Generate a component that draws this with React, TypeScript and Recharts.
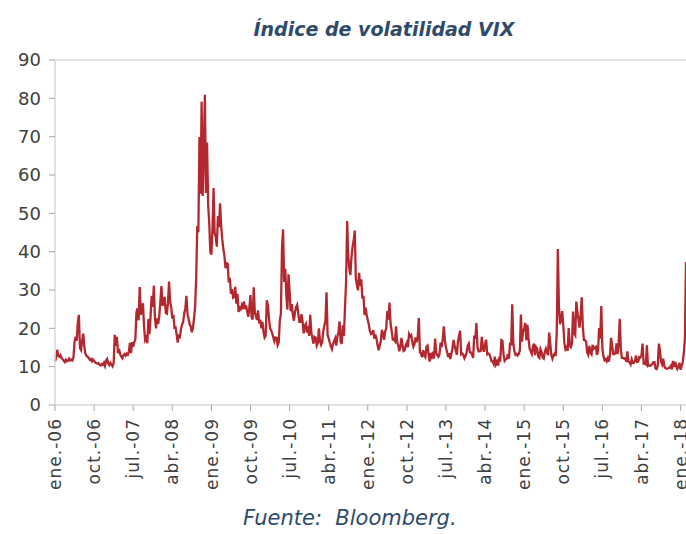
import { LineChart, Line, XAxis, YAxis, ReferenceLine } from "recharts";

// VIX, cuatro lecturas por mes (aprox. semanales), ene-2006 a feb-2018
const vix2006 = [
  11.4, 12.3, 14.4, 12.9, 12.6, 13.0, 12.3, 11.9, 11.6, 11.2, 11.8, 11.4,
  11.6, 12.1, 11.6, 11.8, 11.6, 12.4, 16.5, 17.8, 16.8, 21.5, 23.5, 14.8,
  14.3, 16.8, 18.6, 15.2, 13.4, 12.8, 12.6, 12.3, 11.8, 12.0, 11.4, 11.9,
  11.5, 11.1, 10.9, 10.8, 10.9, 10.5, 10.3, 10.7, 10.5, 11.0, 10.2, 11.6,
];
const vix2007 = [
  12.0, 10.8, 10.4, 11.0, 10.6, 10.1, 10.9, 18.3, 15.4, 17.8, 13.5, 14.6,
  13.2, 12.6, 12.2, 13.0, 13.3, 12.9, 13.4, 13.1, 13.9, 16.2, 13.5, 16.4,
  15.2, 16.4, 17.2, 24.2, 25.2, 22.1, 30.8, 23.5, 25.6, 26.5, 20.4, 17.0,
  17.6, 16.1, 22.4, 18.5, 23.2, 28.5, 25.6, 31.1, 22.9, 20.0, 22.6, 21.2,
];
const vix2008 = [
  23.2, 27.0, 31.0, 25.9, 26.5, 28.2, 24.0, 23.8, 26.5, 32.2, 27.0, 25.5,
  22.6, 23.5, 20.2, 20.3, 18.4, 16.3, 18.0, 17.8, 19.8, 21.0, 21.7, 23.9,
  25.2, 28.5, 23.7, 22.5, 21.0, 20.5, 19.0, 20.1, 22.6, 25.7, 33.1, 46.7,
  45.1, 69.9, 55.1, 79.1, 54.5, 66.3, 80.9, 55.3, 68.5, 52.4, 47.6, 40.0,
];
const vix2009 = [
  39.2, 46.1, 56.6, 44.8, 43.9, 41.3, 49.3, 46.4, 52.6, 46.7, 43.2, 40.8,
  38.9, 35.7, 37.0, 36.8, 32.0, 33.2, 29.0, 30.2, 28.0, 28.2, 30.8, 26.4,
  29.0, 24.3, 25.4, 25.0, 26.0, 25.0, 27.0, 25.1, 26.0, 24.2, 23.0, 25.6,
  28.7, 22.9, 22.3, 30.7, 24.2, 23.1, 22.2, 24.7, 21.3, 22.3, 20.0, 21.7,
];
const vix2010 = [
  19.0, 17.6, 18.1, 27.3, 26.1, 22.7, 20.0, 19.5, 18.7, 17.6, 16.6, 17.6,
  17.5, 15.6, 16.3, 22.0, 23.8, 40.9, 45.8, 32.1, 35.5, 28.6, 24.9, 34.1,
  29.7, 24.5, 26.3, 23.5, 22.0, 24.3, 25.5, 26.1, 23.8, 21.7, 21.7, 23.7,
  21.7, 18.7, 20.7, 21.2, 18.9, 20.6, 18.0, 23.5, 19.0, 17.4, 16.0, 17.8,
];
const vix2011 = [
  17.6, 15.5, 16.2, 20.0, 16.7, 15.7, 16.4, 19.2, 20.7, 21.9, 29.4, 18.3,
  17.4, 16.3, 15.3, 14.6, 15.9, 16.7, 17.4, 15.5, 17.9, 19.0, 21.8, 16.5,
  15.9, 20.8, 18.0, 25.3, 32.0, 48.0, 39.0, 35.6, 33.9, 38.6, 41.3, 42.9,
  45.5, 33.0, 31.3, 29.9, 34.5, 31.1, 32.8, 27.8, 28.5, 23.5, 25.4, 23.4,
];
const vix2012 = [
  22.2, 20.9, 19.2, 18.5, 18.7, 19.5, 17.3, 18.4, 17.3, 15.6, 14.3, 15.5,
  16.7, 19.6, 18.6, 17.0, 19.2, 20.0, 24.5, 22.3, 26.7, 21.2, 19.3, 17.1,
  17.2, 16.7, 20.5, 16.5, 15.6, 14.0, 15.2, 17.5, 15.6, 14.1, 14.3, 15.7,
  16.3, 15.1, 18.5, 17.9, 18.2, 16.4, 15.2, 15.9, 17.6, 16.4, 17.8, 22.7,
];
const vix2013 = [
  13.8, 13.4, 12.5, 14.3, 12.9, 12.5, 15.2, 15.5, 13.0, 11.3, 13.6, 12.7,
  13.9, 12.1, 17.3, 13.6, 13.0, 12.6, 13.2, 16.3, 15.1, 17.1, 20.5, 16.9,
  14.9, 13.9, 12.5, 13.5, 12.0, 13.4, 14.8, 17.0, 15.4, 14.2, 13.1, 16.6,
  18.0, 19.4, 13.2, 13.4, 13.1, 12.2, 12.8, 13.7, 15.5, 16.0, 13.8, 13.7,
];
const vix2014 = [
  13.2, 12.3, 18.1, 17.3, 21.4, 15.1, 14.0, 14.0, 14.1, 17.8, 14.8, 13.9,
  15.9, 17.0, 13.2, 13.4, 13.2, 12.4, 11.4, 11.4, 10.7, 12.6, 10.6, 11.3,
  10.3, 12.1, 11.8, 16.9, 16.7, 13.2, 11.5, 11.9, 12.1, 13.3, 12.1, 16.3,
  15.5, 26.3, 16.1, 14.0, 13.1, 13.3, 12.9, 13.3, 14.2, 23.6, 16.5, 19.2,
];
const vix2015 = [
  19.9, 21.4, 16.9, 20.9, 17.3, 14.7, 14.0, 13.3, 15.2, 16.0, 13.0, 15.1,
  14.7, 12.6, 12.3, 14.6, 13.9, 12.4, 12.1, 13.8, 14.7, 13.8, 13.0, 18.9,
  16.1, 13.0, 12.1, 13.0, 13.4, 12.8, 19.1, 40.7, 25.6, 21.1, 22.3, 24.5,
  20.9, 16.2, 14.6, 15.1, 14.1, 20.1, 15.5, 15.1, 16.0, 24.4, 18.7, 18.2,
];
const vix2016 = [
  27.0, 24.3, 22.3, 20.2, 23.4, 28.1, 20.5, 17.0, 16.9, 16.5, 13.8, 13.1,
  15.4, 13.6, 13.2, 15.7, 14.7, 15.0, 15.2, 13.1, 14.0, 20.1, 17.3, 25.8,
  14.8, 12.7, 11.7, 12.0, 11.4, 12.2, 11.3, 13.1, 17.5, 15.5, 13.3, 13.3,
  13.5, 16.1, 13.3, 16.2, 22.5, 14.4, 12.3, 12.3, 12.1, 12.2, 11.3, 14.0,
];
const vix2017 = [
  11.3, 11.2, 10.6, 11.9, 11.0, 11.0, 11.5, 12.9, 11.2, 11.3, 12.5, 12.4,
  13.0, 16.0, 10.8, 10.8, 10.6, 15.6, 10.2, 10.4, 10.2, 10.4, 10.7, 11.2,
  11.2, 9.5, 9.4, 10.3, 16.0, 14.3, 11.3, 10.6, 12.1, 10.2, 9.6, 9.5,
  9.5, 9.6, 9.8, 10.2, 9.3, 11.5, 9.9, 11.3, 10.2, 9.4, 10.0, 11.0,
];
const vix2018 = [9.2, 10.2, 11.3, 13.5, 17.3, 37.3];

const vixByYear = [
  vix2006, vix2007, vix2008, vix2009, vix2010, vix2011, vix2012,
  vix2013, vix2014, vix2015, vix2016, vix2017, vix2018,
];

const tickLabels = [
  "ene.-06", "oct.-06", "jul.-07", "abr.-08", "ene.-09", "oct.-09",
  "jul.-10", "abr.-11", "ene.-12", "oct.-12", "jul.-13", "abr.-14",
  "ene.-15", "oct.-15", "jul.-16", "abr.-17", "ene.-18",
];
const yTicks = [0, 10, 20, 30, 40, 50, 60, 70, 80, 90];

// t = meses desde ene-2006
const data = vixByYear.flatMap((vals, y) =>
  vals.map((v, i) => ({ t: y * 12 + i / 4, vix: v }))
);
const xEnd = data[data.length - 1].t;
const xTicks = tickLabels.map((_, i) => i * 9);

const axisGray = "#d9d9d9";
const tickGray = "#a6a6a6";
const textGray = "#404040";
const blue = "#2f4b6b";

function XTick({ x, y, payload }: any) {
  const label = tickLabels[Math.round(payload.value / 9)];
  const yy = y + 5;
  return (
    <text
      x={x}
      y={yy}
      transform={`rotate(-90, ${x}, ${yy})`}
      textAnchor="end"
      dy="0.36em"
      fill={textGray}
      fontSize={17}
      letterSpacing={1}
      fontFamily="DejaVu Sans"
    >
      {label}
    </text>
  );
}

export default function App() {
  return (
    <div
      style={{
        position: "absolute",
        left: 0,
        top: 0,
        width: 686,
        height: 534,
        background: "#fff",
        overflow: "hidden",
        fontFamily: "DejaVu Sans",
      }}
    >
      <div
        style={{
          position: "absolute",
          top: 18,
          left: 0,
          width: 768,
          textAlign: "center",
          fontWeight: "bold",
          fontStyle: "italic",
          fontSize: 19,
          color: blue,
        }}
      >
        Índice de volatilidad VIX
      </div>
      <LineChart
        width={686}
        height={534}
        data={data}
        margin={{ top: 60, right: 0, bottom: 0, left: 0 }}
      >
        <ReferenceLine y={90} stroke={axisGray} strokeWidth={1.5} />
        <XAxis
          dataKey="t"
          type="number"
          domain={[0, xEnd]}
          ticks={xTicks}
          interval={0}
          height={129}
          axisLine={{ stroke: axisGray, strokeWidth: 1.5 }}
          tickLine={{ stroke: tickGray }}
          tickSize={6}
          tick={<XTick />}
        />
        <YAxis
          domain={[0, 90]}
          ticks={yTicks}
          interval={0}
          width={55}
          axisLine={{ stroke: axisGray, strokeWidth: 1.5 }}
          tickLine={{ stroke: tickGray }}
          tickSize={6}
          tickMargin={8}
          tick={{ fill: textGray, fontSize: 18, fontFamily: "DejaVu Sans" }}
        />
        <Line
          type="linear"
          dataKey="vix"
          stroke="#b3282e"
          strokeWidth={2.3}
          dot={false}
          isAnimationActive={false}
        />
      </LineChart>
      <div
        style={{
          position: "absolute",
          top: 506,
          left: 243,
          fontStyle: "italic",
          fontSize: 21,
          color: blue,
          whiteSpace: "pre",
        }}
      >
        {"Fuente:  Bloomberg."}
      </div>
    </div>
  );
}
